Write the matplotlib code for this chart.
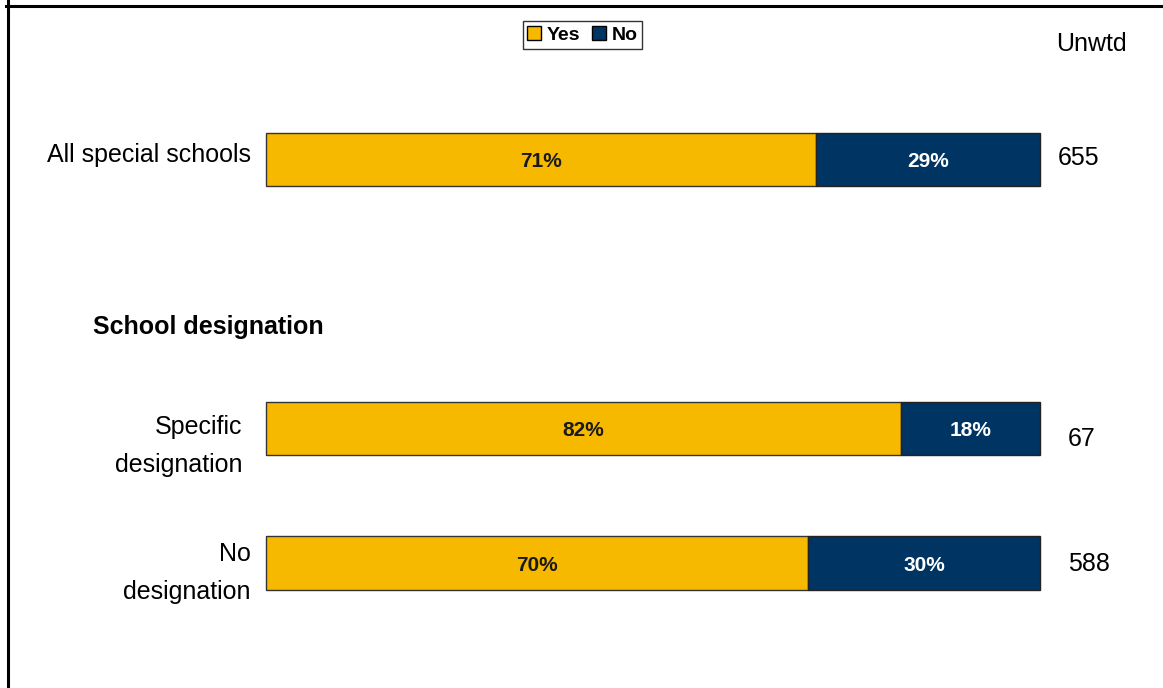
import matplotlib
matplotlib.use("Agg")
import matplotlib.pyplot as plt
from matplotlib.lines import Line2D
from matplotlib.patches import Patch

plt.rcParams['font.family'] = ['Liberation Sans', 'DejaVu Sans']

categories = ["All special schools", "Specific\ndesignation", "No\ndesignation"]
yes_values = [71, 82, 70]
no_values = [29, 18, 30]
unweighted = ["655", "67", "588"]
series_names = ["Yes", "No"]
section_header = "School designation"
slots = [0, 2, 3]

YES_C = '#F7B900'
NO_C = '#003462'

W, H = 1163, 688
fig = plt.figure(figsize=(W / 100, H / 100), dpi=100)
ax = fig.add_axes([266 / W, 0, 774 / W, 1])
ax.set_xlim(0, 100)
ax.set_ylim((H - 159.5) / 134.5, -159.5 / 134.5)
ax.axis('off')

bh = 0.395
b1 = ax.barh(slots, yes_values, height=bh, color=YES_C, edgecolor='#333333', linewidth=1)
b2 = ax.barh(slots, no_values, left=yes_values, height=bh, color=NO_C, edgecolor='#222222', linewidth=1)
for p in list(b1) + list(b2):
    p.set_clip_on(False)

dy = 0.015
for s, y, n in zip(slots, yes_values, no_values):
    ax.text(y / 2, s + dy, f"{y}%", ha='center', va='center', fontsize=15,
            fontweight='bold', color='#1a1a1a')
    ax.text(y + n / 2, s + dy, f"{n}%", ha='center', va='center', fontsize=15,
            fontweight='bold', color='white')

def fx(px):
    return px / W

def fy(py):
    return 1 - py / H

fig.text(fx(251), fy(155), categories[0], ha='right', va='center', fontsize=18)
fig.text(fx(242), fy(446), categories[1], ha='right', va='center', fontsize=18,
         multialignment='right', linespacing=1.75)
fig.text(fx(251), fy(573), categories[2], ha='right', va='center', fontsize=18,
         multialignment='right', linespacing=1.75)
fig.text(fx(93), fy(327), section_header, ha='left', va='center', fontsize=18,
         fontweight='bold')

fig.text(fx(1056), fy(44), "Unwtd", ha='left', va='center', fontsize=18)
fig.text(fx(1058), fy(158), unweighted[0], ha='left', va='center', fontsize=18)
fig.text(fx(1068), fy(439), unweighted[1], ha='left', va='center', fontsize=18)
fig.text(fx(1068), fy(564), unweighted[2], ha='left', va='center', fontsize=18)

handles = [Patch(facecolor=YES_C, edgecolor='black', linewidth=1),
           Patch(facecolor=NO_C, edgecolor='black', linewidth=1)]
leg = fig.legend(handles, series_names, loc='center', bbox_to_anchor=(fx(582.5), fy(35)),
                 ncol=2, frameon=True, fancybox=False, edgecolor='black',
                 prop={'weight': 'bold', 'size': 14}, handlelength=0.7,
                 handleheight=0.7, handletextpad=0.3, columnspacing=0.6,
                 borderpad=0.25, borderaxespad=0)
leg.get_frame().set_linewidth(1)

fig.add_artist(Line2D([fx(6), 1], [fy(5.5), fy(5.5)], color='black', linewidth=2.2))
fig.add_artist(Line2D([fx(7.5), fx(7.5)], [0, 1], color='black', linewidth=2.2))

fig.savefig('out.png', dpi=100)
